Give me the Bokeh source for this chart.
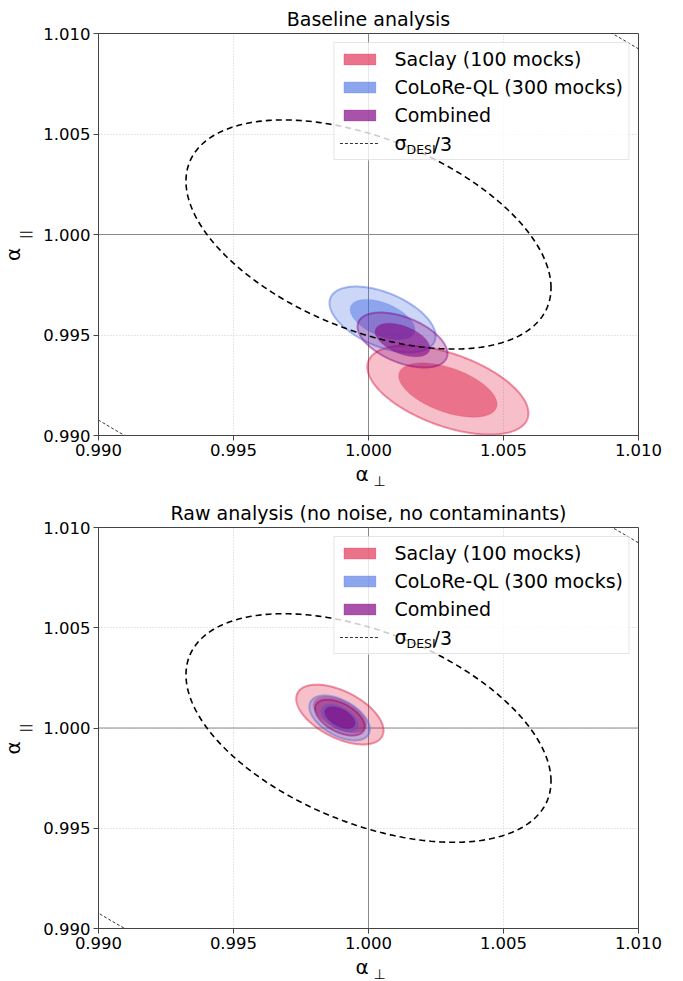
import numpy as np
from bokeh.plotting import figure
from bokeh.models import (Legend, LegendItem, Span, Label, FixedTicker, Title,
                          PrintfTickFormatter, Range1d, BoxAnnotation)
from bokeh.layouts import column
from bokeh.embed import file_html
from bokeh.resources import INLINE

# ---------------- data ----------------
series = ["Saclay (100 mocks)", "CoLoRe-QL (300 mocks)", "Combined"]
colors = ["#DC143C", "#4169E1", "#800080"]

# Baseline analysis: centre, sigmas, correlation for each sample
base_cx = [1.00294, 1.00052, 1.00126]
base_cy = [0.99226, 0.99577, 0.99475]
base_sx = [1.20e-3, 0.79e-3, 0.67e-3]
base_sy = [0.89e-3, 0.66e-3, 0.55e-3]
base_rho = [-0.52, -0.50, -0.49]

# Raw analysis (no noise, no contaminants)
raw_cx = [0.99894, 0.99893, 0.99894]
raw_cy = [1.00067, 1.00050, 1.00052]
raw_sx = [0.65e-3, 0.45e-3, 0.37e-3]
raw_sy = [0.60e-3, 0.45e-3, 0.36e-3]
raw_rho = [-0.53, -0.50, -0.50]

# DESI forecast ellipse (sigma_DESI / 3) and full sigma_DESI
desi_cx, desi_cy = 1.0, 1.0
desi_sx, desi_sy, desi_rho = 6.76e-3, 5.70e-3, -0.466
desi_full_factor = 3.0

levels = [2.30, 6.18]          # delta chi^2 of the 68% / 95% contours
ticks = [0.990, 0.995, 1.000, 1.005, 1.010]
titles = ["Baseline analysis", "Raw analysis (no noise, no contaminants)"]

FONT = "DejaVu Sans"
NBSP = "\u00a0"


def ellipse(cx, cy, sx, sy, rho, k):
    t = np.linspace(0, 2 * np.pi, 361)
    x = cx + k * sx * np.cos(t)
    y = cy + k * sy * (rho * np.cos(t) + np.sqrt(1 - rho ** 2) * np.sin(t))
    return x, y


def make_panel(title, cx, cy, sx, sy, rho, height, top, bottom):
    frame_h = height - top - bottom
    p = figure(width=678, height=height, output_backend="svg", toolbar_location=None,
               x_range=Range1d(ticks[0], ticks[-1]), y_range=Range1d(ticks[0], ticks[-1]),
               min_border_left=98, min_border_right=40, min_border_top=top,
               min_border_bottom=bottom, title=title)
    p.title.text_font = FONT
    p.title.text_font_size = "19px"
    p.title.text_font_style = "normal"
    p.title.text_color = "black"
    p.title.align = "center"
    p.title.standoff = 8
    p.background_fill_color = "white"
    p.border_fill_color = "white"
    p.outline_line_color = "#444444"
    p.outline_line_width = 1

    for ax in (p.xaxis, p.yaxis):
        ax.ticker = FixedTicker(ticks=ticks)
        ax.formatter = PrintfTickFormatter(format="%.3f")
        ax.major_label_text_font = FONT
        ax.major_label_text_font_size = "16.5px"
        ax.major_label_text_color = "black"
        ax.axis_line_color = "#444444"
        ax.major_tick_line_color = "#444444"
        ax.major_tick_out = 5
        ax.major_tick_in = 0
        ax.minor_tick_line_color = None
        ax.major_label_standoff = 3
        ax.axis_label_text_font = FONT
        ax.axis_label_text_font_style = "normal"
        ax.axis_label_text_color = "black"
    # x label: alpha with a perpendicular-sign subscript
    p.xaxis.axis_label = "α" + NBSP * 2
    p.xaxis.axis_label_text_font_size = "20px"
    p.xaxis.axis_label_standoff = 3
    p.add_layout(Title(text="⊥", align="left", offset=275, vertical_align="top",
                       standoff=-31, text_font=FONT, text_font_size="14px",
                       text_font_style="normal", text_color="black"), "below")
    # y label: alpha with a parallel-sign subscript
    p.yaxis.axis_label = "||"
    p.yaxis.axis_label_text_font_size = "13px"
    p.yaxis.axis_label_standoff = 7
    p.add_layout(Title(text="α", align="left", offset=frame_h / 2 - 26.5,
                       vertical_align="bottom", standoff=-19, text_font=FONT,
                       text_font_size="20px", text_font_style="normal",
                       text_color="black"), "left")

    for g in (p.xgrid, p.ygrid):
        g.grid_line_color = "#cccccc"
        g.grid_line_dash = "1 2"
        g.grid_line_width = 1

    p.add_layout(Span(location=1.0, dimension="height", line_color="#8a8a8a",
                      line_width=1, level="underlay"))
    p.add_layout(Span(location=1.0, dimension="width", line_color="#8a8a8a",
                      line_width=1, level="underlay"))

    legend_renderers = []
    for i in range(3):
        xo, yo = ellipse(cx[i], cy[i], sx[i], sy[i], rho[i], np.sqrt(levels[1]))
        xi, yi = ellipse(cx[i], cy[i], sx[i], sy[i], rho[i], np.sqrt(levels[0]))
        # 95% band (ring with a hole), its edge, then the 68% region
        p.multi_polygons(xs=[[[list(xo), list(xi)]]], ys=[[[list(yo), list(yi)]]],
                         fill_color=colors[i], fill_alpha=0.27, line_alpha=0)
        p.line(xo, yo, line_color=colors[i], line_alpha=0.45, line_width=2)
        r = p.patch(xi, yi, fill_color=colors[i], fill_alpha=0.6 if i < 2 else 0.68,
                    line_color=colors[i], line_alpha=0.2, line_width=1)
        legend_renderers.append(r)

    xd, yd = ellipse(desi_cx, desi_cy, desi_sx, desi_sy, desi_rho, 1.0)
    p.line(xd, yd, line_color="black", line_width=1.6, line_dash="6 4")
    xf, yf = ellipse(desi_cx, desi_cy, desi_sx, desi_sy, desi_rho, desi_full_factor)
    rf = p.line(xf, yf, line_color="black", line_width=0.8, line_dash="3 2")

    # legend background box (semi-transparent white)
    p.add_layout(BoxAnnotation(left=235, right=531, top=frame_h - 9, bottom=frame_h - 127,
                               left_units="screen", right_units="screen",
                               top_units="screen", bottom_units="screen",
                               fill_color="white", fill_alpha=0.8, line_alpha=0))
    # subscript and rest of the sigma_DESI/3 legend label
    p.add_layout(Label(x=308, y=frame_h - 116, x_units="screen", y_units="screen",
                       text="DESI", text_font=FONT, text_font_size="12.5px",
                       text_color="black", text_baseline="middle"))
    p.add_layout(Label(x=335, y=frame_h - 110, x_units="screen", y_units="screen",
                       text="/3", text_font=FONT, text_font_size="19px",
                       text_color="black", text_baseline="middle"))

    items = [LegendItem(label=series[i], renderers=[legend_renderers[i]]) for i in range(3)]
    items.append(LegendItem(label="σ", renderers=[rf]))
    legend = Legend(items=items, location="top_right", margin=9, padding=5,
                    spacing=6, glyph_width=40, glyph_height=14, label_standoff=15,
                    label_text_font=FONT, label_text_font_size="19px",
                    label_text_color="black",
                    label_height=21, border_line_color="#cccccc",
                    background_fill_alpha=0)
    p.add_layout(legend)
    return p


p1 = make_panel(titles[0], base_cx, base_cy, base_sx, base_sy, base_rho, 495, 33, 60)
p2 = make_panel(titles[1], raw_cx, raw_cy, raw_sx, raw_sy, raw_rho, 486, 32, 53)

layout = column(p1, p2, spacing=0)
open("out.html", "w").write(file_html(layout, INLINE))
